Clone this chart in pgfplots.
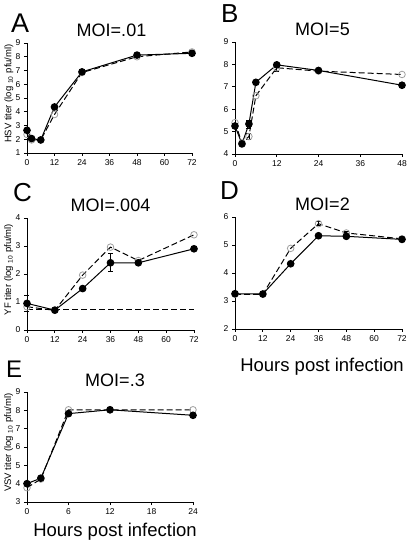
\documentclass[border=0pt]{standalone}
\usepackage{fontspec}
\setmainfont{Liberation Sans}
\usepackage{pgfplots}
\pgfplotsset{compat=1.18}
\pgfplotsset{
  panel/.style={scale only axis, axis x line*=bottom, axis y line*=left,
    tick align=outside, major tick length=3pt,
    axis line style={line width=0.8pt,-},
    every tick/.style={black,line width=0.8pt},
    ticklabel style={font=\fontsize{8.5}{9}\selectfont},
    /pgf/number format/assume math mode=true,
    clip=false, enlargelimits=false},
  filled/.style={black, line width=1pt, mark=*, mark size=3.3pt, mark options={solid, fill=black}},
  open/.style={black, line width=1pt, dash pattern=on 6pt off 3pt, mark=o, mark size=3.3pt,
    mark options={solid, draw=gray!75, fill=white, line width=0.8pt}},
  ebar/.style={draw=none, mark=none, forget plot, error bars/.cd, y dir=both, y explicit,
    error bar style={line width=0.8pt, black, solid},
    error mark options={rotate=90, mark size=2.5pt, line width=0.8pt, black}},
}
\newcommand{\ylab}[1]{\node[rotate=90, font=\fontsize{9.5}{10}\selectfont] at (axis description cs:-0.11,0.54) {#1 titer (log \textsubscript{10} pfu/ml)};}
\newcommand{\ttl}[2][0pt]{\node[anchor=base, font=\fontsize{18}{18}\selectfont, yshift=6pt, xshift=#1] at (axis description cs:0.5,1) {#2};}
\begin{document}
\begin{tikzpicture}
\path[use as bounding box] (0pt,0pt) rectangle (408pt,543pt);
% Panel letters
\node[anchor=base west, font=\fontsize{27}{27}\selectfont, inner sep=0pt] at (11pt,510pt) {A};
\node[anchor=base west, font=\fontsize{26}{26}\selectfont, inner sep=0pt] at (221pt,520pt) {B};
\node[anchor=base west, font=\fontsize{26}{26}\selectfont, inner sep=0pt] at (13pt,341pt) {C};
\node[anchor=base west, font=\fontsize{26}{26}\selectfont, inner sep=0pt] at (220pt,343pt) {D};
\node[anchor=base west, font=\fontsize{24}{24}\selectfont, inner sep=0pt] at (6pt,165pt) {E};
\node[anchor=base, font=\fontsize{18.5}{19}\selectfont] at (322pt,171pt) {Hours post infection};
\node[anchor=base, font=\fontsize{18.5}{19}\selectfont] at (115pt,6pt) {Hours post infection};

% A
\begin{axis}[panel, at={(27pt,390pt)}, anchor=south west, width=165pt, height=110pt,
  xmin=0, xmax=72, ymin=1, ymax=9, xtick={0,12,...,72}, ytick={1,...,9}]
\addplot[open] coordinates {(0,2.35)(2,1.95)(6,1.95)(12,3.8)(24,6.85)(48,8.0)(72,8.35)};
\addplot[filled] coordinates {(0,2.65)(2,2.05)(6,1.95)(12,4.35)(24,6.9)(48,8.12)(72,8.25)};
\ylab{HSV}
\ttl[2pt]{MOI=.01}
\end{axis}

% B
\begin{axis}[panel, at={(235pt,389pt)}, anchor=south west, width=167pt, height=112pt,
  xmin=0, xmax=48, ymin=4, ymax=9, xtick={0,12,...,48}, ytick={4,...,9}]
\addplot[ebar] coordinates {(4,5.34) +- (0,0.18) (4,4.78) +- (0,0.15) (12,7.88) +- (0,0.2)};
\addplot[open] coordinates {(0,5.4)(2,4.5)(4,4.78)(6,6.6)(12,7.85)(24,7.7)(48,7.55)};
\addplot[filled] coordinates {(0,5.25)(2,4.45)(4,5.34)(6,7.2)(12,7.98)(24,7.73)(48,7.07)};
\ttl[4pt]{MOI=5}
\end{axis}

% C
\begin{axis}[panel, at={(27pt,213pt)}, anchor=south west, width=167pt, height=112pt,
  xmin=0, xmax=72, ymin=0, ymax=4, xtick={0,12,...,72}, ytick={0,...,4}]
\addplot[black, line width=1pt, dash pattern=on 6pt off 3pt, forget plot] coordinates {(0,0.72)(72,0.72)};
\addplot[ebar] coordinates {(0,0.95) +- (0,0.27) (36,2.4) +- (0,0.32)};
\addplot[open] coordinates {(0,0.83)(12,0.7)(24,1.96)(36,2.96)(48,2.48)(72,3.4)};
\addplot[filled] coordinates {(0,0.95)(12,0.71)(24,1.48)(36,2.4)(48,2.4)(72,2.9)};
\ylab{YF}
\ttl{MOI=.004}
\end{axis}

% D
\begin{axis}[panel, at={(235pt,214pt)}, anchor=south west, width=167pt, height=112pt,
  xmin=0, xmax=72, ymin=2, ymax=6, xtick={0,12,...,72}, ytick={2,...,6}]
\addplot[ebar] coordinates {(36,5.76) +- (0,0.07) (48,5.37) +- (0,0.1) (72,5.21) +- (0,0.08)};
\addplot[open] coordinates {(0,3.24)(12,3.24)(24,4.88)(36,5.76)(48,5.43)(72,5.22)};
\addplot[filled] coordinates {(0,3.26)(12,3.25)(24,4.33)(36,5.33)(48,5.31)(72,5.2)};
\ttl[4pt]{MOI=2}
\end{axis}

% E
\begin{axis}[panel, at={(27pt,41pt)}, anchor=south west, width=166pt, height=110pt,
  xmin=0, xmax=24, ymin=3, ymax=9, xtick={0,6,...,24}, ytick={3,...,9}]
\addplot[open] coordinates {(0,3.78)(2,4.25)(6,8.03)(12,8.03)(24,8.03)};
\addplot[filled] coordinates {(0,4.0)(2,4.3)(6,7.82)(12,8.03)(24,7.73)};
\ylab{VSV}
\ttl[5pt]{MOI=.3}
\end{axis}
\end{tikzpicture}
\end{document}
